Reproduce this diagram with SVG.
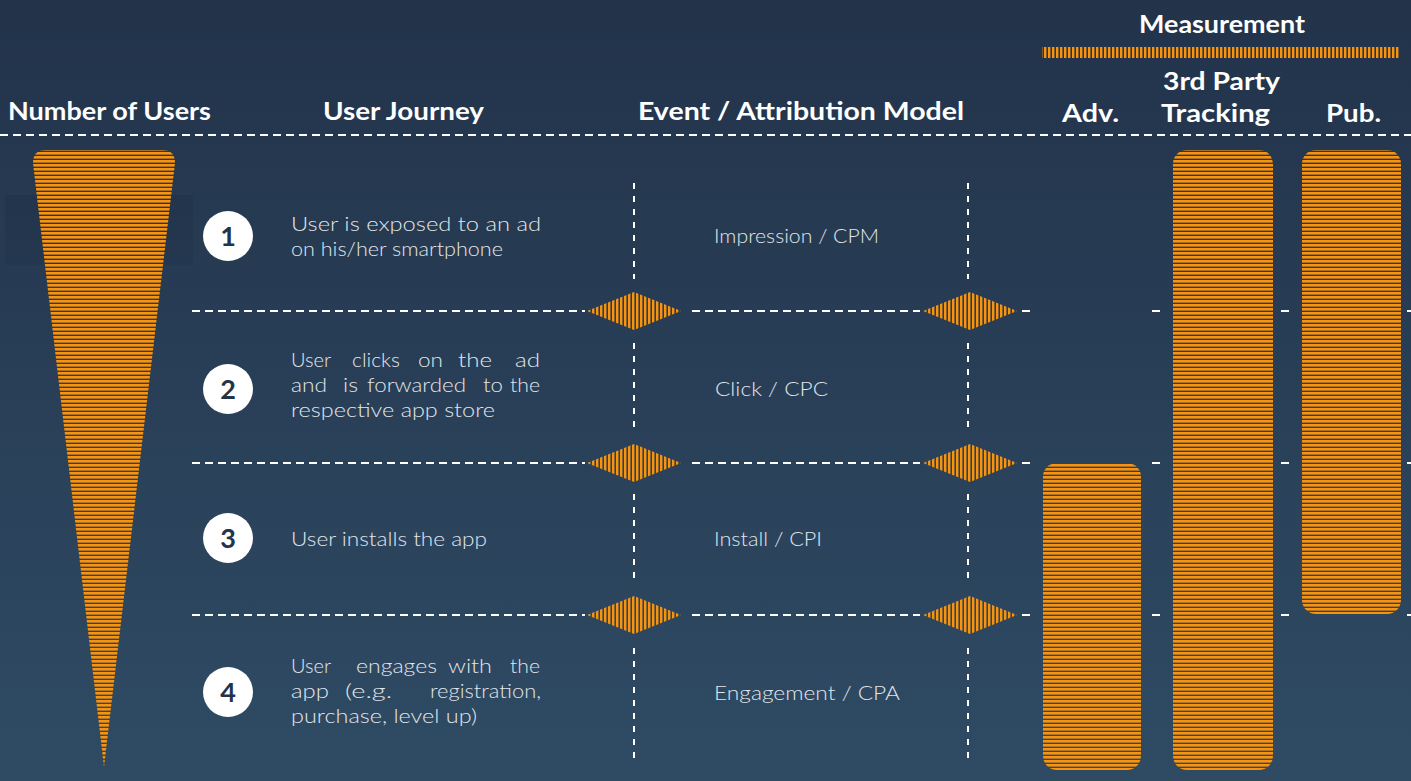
<svg xmlns="http://www.w3.org/2000/svg" width="1411" height="781" viewBox="0 0 1411 781">
<defs>
<linearGradient id="bg" x1="0" y1="0" x2="0" y2="1">
<stop offset="0" stop-color="#22334a"/>
<stop offset="1" stop-color="#2f4b64"/>
</linearGradient>
<pattern id="hstripe" patternUnits="userSpaceOnUse" width="8" height="4">
<rect x="0" y="0" width="8" height="2.6" fill="#f7930f"/>
</pattern>
<pattern id="vstripe" patternUnits="userSpaceOnUse" width="4" height="8">
<rect x="0" y="0" width="2.4" height="8" fill="#f7930f"/>
</pattern>
<style>
.hdr{font-family:"Lato","Liberation Sans",sans-serif;font-weight:700;font-size:24px;fill:#ffffff;}
.body{font-family:"Lato","Liberation Sans",sans-serif;font-weight:300;font-size:20px;fill:#e2e6ea;}
.num{font-family:"Lato","Liberation Sans",sans-serif;font-weight:700;font-size:27px;fill:#23344a;text-anchor:middle;}
.dash{stroke:#ffffff;stroke-width:2;stroke-dasharray:8 5;fill:none;}
.vdash{stroke:#ffffff;stroke-width:2;stroke-dasharray:6 7;fill:none;}
.circ{fill:#ffffff;}
.bar{fill:url(#hstripe);}
.dia{fill:url(#vstripe);}
</style>
</defs>
<rect x="0" y="0" width="1411" height="781" fill="url(#bg)"/>
<rect x="5" y="195" width="188" height="70" fill="#1e2f44" opacity="0.3"/>

<g id="headers">
<text class="hdr" x="8" y="120" textLength="203" lengthAdjust="spacingAndGlyphs">Number of Users</text>
<text class="hdr" x="323" y="120" textLength="161" lengthAdjust="spacingAndGlyphs">User Journey</text>
<text class="hdr" x="638" y="120" textLength="326" lengthAdjust="spacingAndGlyphs">Event / Attribution Model</text>
<text class="hdr" x="1062" y="122" textLength="57" lengthAdjust="spacingAndGlyphs">Adv.</text>
<text class="hdr" x="1163" y="90" textLength="117" lengthAdjust="spacingAndGlyphs">3rd Party</text>
<text class="hdr" x="1161" y="122" textLength="109" lengthAdjust="spacingAndGlyphs">Tracking</text>
<text class="hdr" x="1326" y="122" textLength="55" lengthAdjust="spacingAndGlyphs">Pub.</text>
<text class="hdr" x="1139" y="33" textLength="166" lengthAdjust="spacingAndGlyphs">Measurement</text>
<rect x="1042" y="47" width="358" height="11" class="dia"/>
</g>

<g id="connectors">
<line class="dash" x1="0" y1="135" x2="1411" y2="135"/>
<line class="vdash" x1="634" y1="183" x2="634" y2="279"/>
<line class="vdash" x1="634" y1="343" x2="634" y2="432"/>
<line class="vdash" x1="634" y1="494" x2="634" y2="584"/>
<line class="vdash" x1="634" y1="648" x2="634" y2="762"/>
<line class="vdash" x1="968" y1="183" x2="968" y2="279"/>
<line class="vdash" x1="968" y1="343" x2="968" y2="432"/>
<line class="vdash" x1="968" y1="494" x2="968" y2="584"/>
<line class="vdash" x1="968" y1="648" x2="968" y2="762"/>
<g id="sep1">
<line class="dash" x1="192" y1="311" x2="585" y2="311"/>
<line class="dash" x1="692" y1="311" x2="920" y2="311"/>
<line class="dash" x1="1022" y1="311" x2="1031" y2="311"/>
<line class="dash" x1="1152" y1="311" x2="1161" y2="311"/>
<line class="dash" x1="1281" y1="311" x2="1290" y2="311"/>
<line class="dash" x1="1407" y1="311" x2="1415" y2="311"/>
<polygon class="dia" points="587,311 634,292 681,311 634,330"/>
<polygon class="dia" points="923,311 970,292 1017,311 970,330"/>
</g>
<g id="sep2">
<line class="dash" x1="192" y1="463" x2="585" y2="463"/>
<line class="dash" x1="692" y1="463" x2="920" y2="463"/>
<line class="dash" x1="1022" y1="463" x2="1031" y2="463"/>
<line class="dash" x1="1152" y1="463" x2="1161" y2="463"/>
<line class="dash" x1="1281" y1="463" x2="1290" y2="463"/>
<line class="dash" x1="1407" y1="463" x2="1415" y2="463"/>
<polygon class="dia" points="587,463 634,444 681,463 634,482"/>
<polygon class="dia" points="923,463 970,444 1017,463 970,482"/>
</g>
<g id="sep3">
<line class="dash" x1="192" y1="615" x2="585" y2="615"/>
<line class="dash" x1="692" y1="615" x2="920" y2="615"/>
<line class="dash" x1="1022" y1="615" x2="1031" y2="615"/>
<line class="dash" x1="1152" y1="615" x2="1161" y2="615"/>
<line class="dash" x1="1281" y1="615" x2="1290" y2="615"/>
<line class="dash" x1="1407" y1="615" x2="1415" y2="615"/>
<polygon class="dia" points="587,615 634,596 681,615 634,634"/>
<polygon class="dia" points="923,615 970,596 1017,615 970,634"/>
</g>
</g>

<g id="funnel">
<path class="bar" d="M46,150 L162,150 Q175,150 175,163 L104,767 L33,163 Q33,150 46,150 Z"/>
</g>

<g id="step1">
<circle class="circ" cx="228" cy="236" r="25"/>
<text class="num" x="228" y="246">1</text>
<text class="body" x="291" y="231" textLength="250" lengthAdjust="spacingAndGlyphs">User is exposed to an ad</text>
<text class="body" x="291" y="256" textLength="212" lengthAdjust="spacingAndGlyphs">on his/her smartphone</text>
<text class="body" x="714" y="243" textLength="165" lengthAdjust="spacingAndGlyphs">Impression / CPM</text>
</g>
<g id="step2">
<circle class="circ" cx="228" cy="389" r="25"/>
<text class="num" x="228" y="399">2</text>
<text class="body" x="291" y="367" textLength="40" lengthAdjust="spacingAndGlyphs">User</text>
<text class="body" x="352" y="367" textLength="48" lengthAdjust="spacingAndGlyphs">clicks</text>
<text class="body" x="418" y="367" textLength="25" lengthAdjust="spacingAndGlyphs">on</text>
<text class="body" x="458" y="367" textLength="34" lengthAdjust="spacingAndGlyphs">the</text>
<text class="body" x="515" y="367" textLength="25" lengthAdjust="spacingAndGlyphs">ad</text>
<text class="body" x="291" y="392" textLength="36" lengthAdjust="spacingAndGlyphs">and</text>
<text class="body" x="343" y="392" textLength="15" lengthAdjust="spacingAndGlyphs">is</text>
<text class="body" x="367" y="392" textLength="99" lengthAdjust="spacingAndGlyphs">forwarded</text>
<text class="body" x="483" y="392" textLength="20" lengthAdjust="spacingAndGlyphs">to</text>
<text class="body" x="510" y="392" textLength="30" lengthAdjust="spacingAndGlyphs">the</text>
<text class="body" x="291" y="417" textLength="204" lengthAdjust="spacingAndGlyphs">respective app store</text>
<text class="body" x="715" y="396" textLength="113" lengthAdjust="spacingAndGlyphs">Click / CPC</text>
</g>
<g id="step3">
<circle class="circ" cx="228" cy="538" r="25"/>
<text class="num" x="228" y="548">3</text>
<text class="body" x="291" y="546" textLength="196" lengthAdjust="spacingAndGlyphs">User installs the app</text>
<text class="body" x="714" y="546" textLength="108" lengthAdjust="spacingAndGlyphs">Install / CPI</text>
</g>
<g id="step4">
<circle class="circ" cx="228" cy="692" r="25"/>
<text class="num" x="228" y="702">4</text>
<text class="body" x="291" y="673" textLength="40" lengthAdjust="spacingAndGlyphs">User</text>
<text class="body" x="356" y="673" textLength="81" lengthAdjust="spacingAndGlyphs">engages</text>
<text class="body" x="448" y="673" textLength="44" lengthAdjust="spacingAndGlyphs">with</text>
<text class="body" x="510" y="673" textLength="30" lengthAdjust="spacingAndGlyphs">the</text>
<text class="body" x="291" y="698" textLength="38" lengthAdjust="spacingAndGlyphs">app</text>
<text class="body" x="345" y="698" textLength="47" lengthAdjust="spacingAndGlyphs">(e.g.</text>
<text class="body" x="430" y="698" textLength="111" lengthAdjust="spacingAndGlyphs">registration,</text>
<text class="body" x="291" y="723" textLength="186" lengthAdjust="spacingAndGlyphs">purchase, level up)</text>
<text class="body" x="714" y="700" textLength="186" lengthAdjust="spacingAndGlyphs">Engagement / CPA</text>
</g>

<g id="bar-adv">
<rect class="bar" x="1043" y="463" width="98" height="307" rx="14"/>
</g>
<g id="bar-3rd">
<rect class="bar" x="1173" y="150" width="100" height="620" rx="14"/>
</g>
<g id="bar-pub">
<rect class="bar" x="1302" y="150" width="99" height="464" rx="14"/>
</g>
</svg>
